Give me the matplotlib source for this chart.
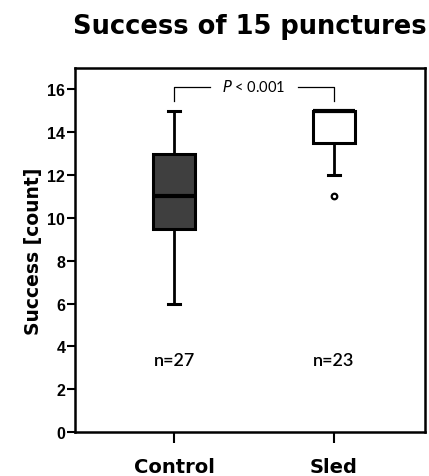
import matplotlib
matplotlib.use("Agg")
import matplotlib.pyplot as plt

categories = ["Control", "Sled"]
q1 = [9.5, 13.5]
med = [11, 15]
q3 = [13, 15]
whislo = [6, 12]
whishi = [15, 15]
fliers = [[], [11]]
n_labels = ["n=27", "n=23"]
yticks = [0, 2, 4, 6, 8, 10, 12, 14, 16]
box_colors = ["#3f3f3f", "#ffffff"]
p_text = "< 0.001"

plt.rcParams['font.family'] = ['Liberation Sans', 'DejaVu Sans']
fig = plt.figure(figsize=(4.29, 4.77), dpi=100)
ax = fig.add_axes([75/429, 1-433/477, 350/429, 364/477])

stats = []
for i, c in enumerate(categories):
    stats.append(dict(label=c, q1=q1[i], med=med[i], q3=q3[i],
                      whislo=whislo[i], whishi=whishi[i], fliers=fliers[i]))
pos = [1, 2]
bp = ax.bxp(stats, positions=pos, widths=0.26, patch_artist=True,
            capwidths=0.08,
            boxprops=dict(linewidth=2.2, edgecolor='black'),
            medianprops=dict(color='black', linewidth=3),
            whiskerprops=dict(linewidth=2),
            capprops=dict(linewidth=2.2),
            flierprops=dict(marker='o', markersize=4, markerfacecolor='white',
                            markeredgecolor='black', markeredgewidth=1.6),
            showcaps=True)
for patch, col in zip(bp['boxes'], box_colors):
    patch.set_facecolor(col)
# hide top cap of Sled (coincides with box)
bp['caps'][3].set_visible(False)

ax.set_xlim(0.38, 2.57)
ax.set_ylim(0, 17)
ax.set_yticks(yticks)
ax.set_yticklabels([str(t) for t in yticks], fontweight='bold', fontsize=11.5)
ax.set_xticks(pos)
ax.set_xticklabels(categories, fontweight='bold', fontsize=14,
                   family=['DejaVu Sans'])
for s in ax.spines.values():
    s.set_linewidth(1.8)
ax.tick_params(axis='y', length=6, width=1.5, pad=1)
ax.tick_params(axis='x', length=8, width=1.5, pad=10)
ax.set_ylabel("Success [count]", fontweight='bold', fontsize=13.5, labelpad=3,
              family=['DejaVu Sans'])
ax.set_title("Success of 15 punctures", fontweight='bold', fontsize=18.5, pad=25,
             family=['DejaVu Sans'])

for i, t in enumerate(n_labels):
    ax.text(pos[i], 3.34, t, ha='center', va='center', fontsize=13,
            fontweight='semibold', family=['Lato', 'DejaVu Sans'])

# significance bracket
yb = 16.1
ax.plot([pos[0], pos[0], 1.224], [15.47, yb, yb], color='black', lw=0.9)
ax.plot([1.774, pos[1], pos[1]], [yb, yb, 15.47], color='black', lw=0.9)
ax.text(1.5, yb + 0.05, r"$\it{P}$ " + p_text, ha='center', va='center', fontsize=10.5,
        family=['Lato', 'DejaVu Sans'])

fig.savefig("out.png", dpi=100)
